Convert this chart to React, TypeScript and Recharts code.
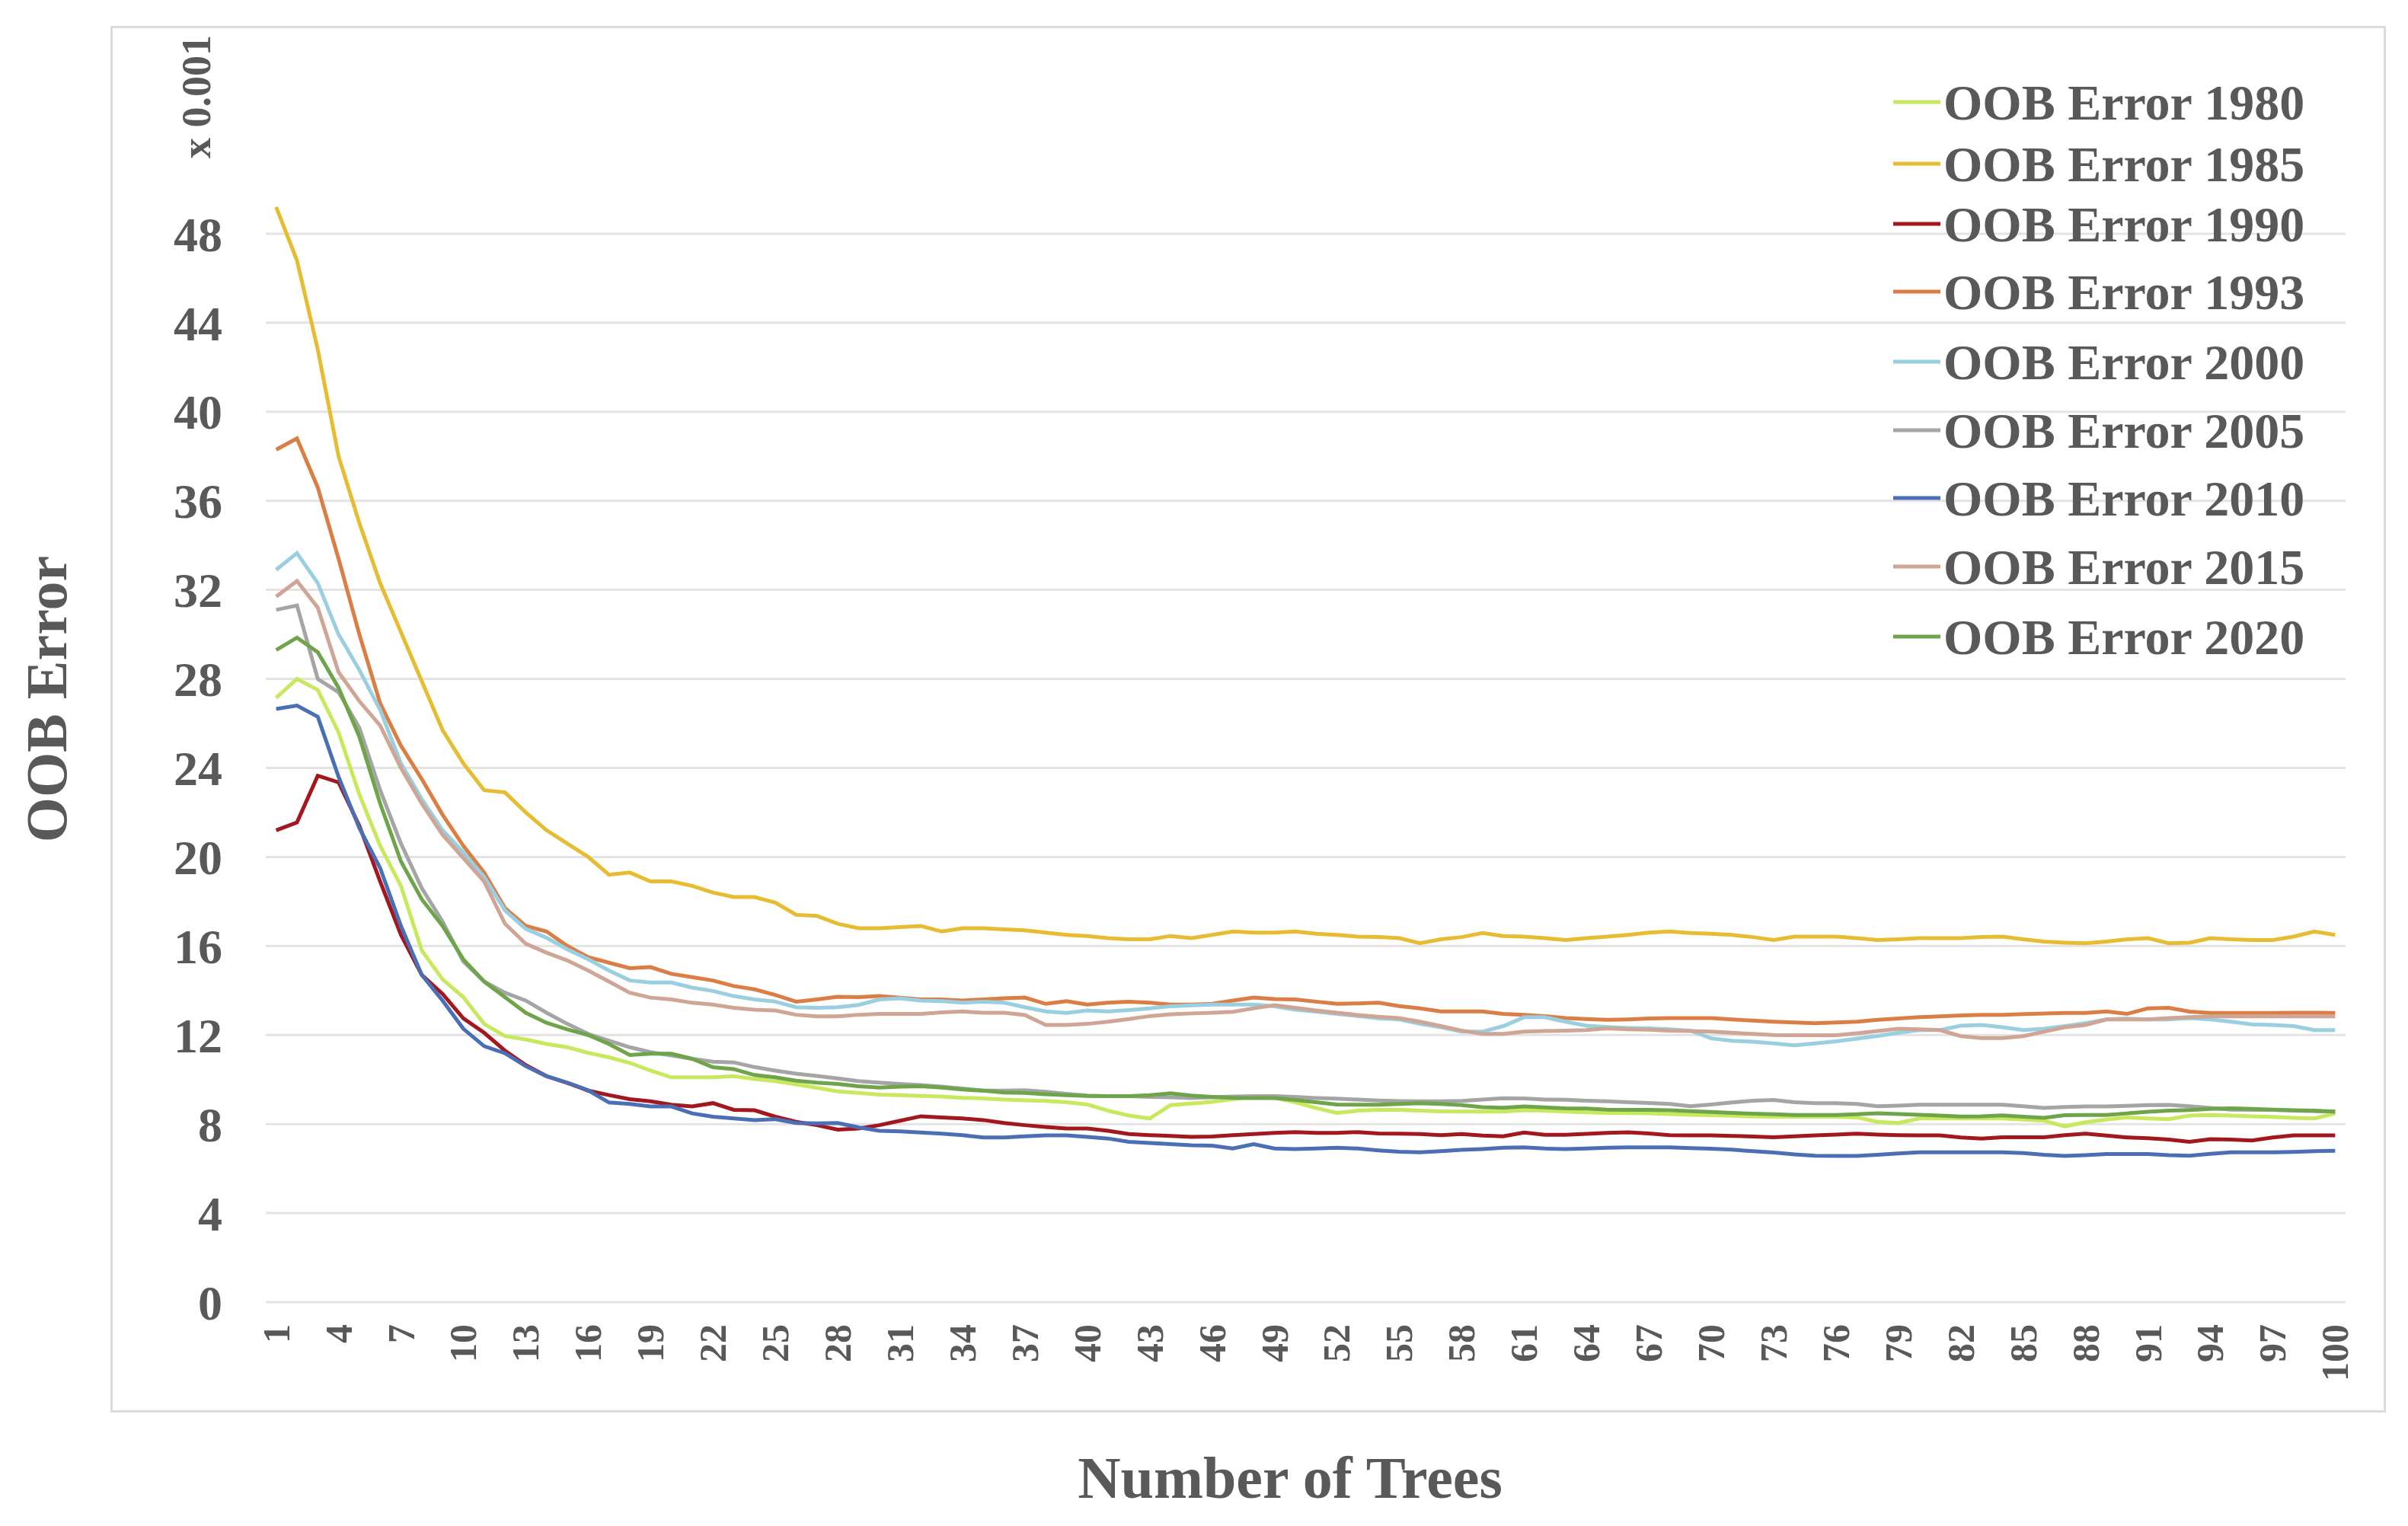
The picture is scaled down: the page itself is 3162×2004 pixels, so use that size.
import React from 'react';
import { LineChart, Line, XAxis, YAxis, CartesianGrid } from 'recharts';

// number of trees (category axis)
const trees = [
  1, 2, 3, 4, 5, 6, 7, 8, 9, 10, 11, 12, 13, 14, 15, 16, 17, 18, 19, 20,
  21, 22, 23, 24, 25, 26, 27, 28, 29, 30, 31, 32, 33, 34, 35, 36, 37, 38, 39, 40,
  41, 42, 43, 44, 45, 46, 47, 48, 49, 50, 51, 52, 53, 54, 55, 56, 57, 58, 59, 60,
  61, 62, 63, 64, 65, 66, 67, 68, 69, 70, 71, 72, 73, 74, 75, 76, 77, 78, 79, 80,
  81, 82, 83, 84, 85, 86, 87, 88, 89, 90, 91, 92, 93, 94, 95, 96, 97, 98, 99, 100,
];

const xTicks = [1, 4, 7, 10, 13, 16, 19, 22, 25, 28, 31, 34, 37, 40, 43, 46, 49, 52, 55, 58, 61, 64, 67, 70, 73, 76, 79, 82, 85, 88, 91, 94, 97, 100];
const yTicks = [0, 4, 8, 12, 16, 20, 24, 28, 32, 36, 40, 44, 48];

// OOB error values, x 0.001
const oob1980 = [
  27.15, 28.0, 27.5, 25.6, 22.8, 20.5, 18.7, 15.8, 14.5, 13.7, 12.5, 11.95, 11.8, 11.6, 11.45, 11.2, 11.0, 10.75, 10.4, 10.1,
  10.1, 10.1, 10.15, 10.02, 9.93, 9.78, 9.63, 9.47, 9.4, 9.32, 9.3, 9.26, 9.24, 9.18, 9.15, 9.1, 9.07, 9.04, 8.98, 8.88,
  8.6, 8.38, 8.25, 8.85, 8.92, 9.0, 9.12, 9.22, 9.18, 8.98, 8.72, 8.5, 8.6, 8.64, 8.64, 8.6, 8.57, 8.56, 8.56, 8.56,
  8.62, 8.6, 8.56, 8.53, 8.5, 8.49, 8.48, 8.45, 8.42, 8.4, 8.37, 8.34, 8.33, 8.33, 8.33, 8.33, 8.3, 8.1, 8.05, 8.25,
  8.25, 8.25, 8.25, 8.25, 8.2, 8.15, 7.9, 8.08, 8.2, 8.3, 8.25, 8.22, 8.38, 8.41, 8.38, 8.35, 8.32, 8.28, 8.25, 8.48,
];

const oob1985 = [
  49.2, 46.8, 42.8, 38.0, 35.0, 32.3, 30.1, 27.9, 25.7, 24.2, 23.0, 22.9, 22.0, 21.2, 20.6, 20.0, 19.2, 19.3, 18.9, 18.9,
  18.7, 18.4, 18.2, 18.2, 17.95, 17.4, 17.35, 17.0, 16.8, 16.8, 16.85, 16.9, 16.65, 16.8, 16.8, 16.75, 16.7, 16.6, 16.5, 16.45,
  16.35, 16.3, 16.3, 16.45, 16.35, 16.5, 16.65, 16.6, 16.6, 16.65, 16.55, 16.5, 16.42, 16.4, 16.35, 16.12, 16.3, 16.4, 16.58, 16.45,
  16.42, 16.35, 16.27, 16.35, 16.42, 16.5, 16.6, 16.65, 16.58, 16.55, 16.5, 16.4, 16.27, 16.42, 16.42, 16.42, 16.35, 16.27, 16.3, 16.35,
  16.35, 16.35, 16.4, 16.42, 16.3, 16.2, 16.15, 16.12, 16.2, 16.3, 16.35, 16.12, 16.15, 16.35, 16.3, 16.27, 16.27, 16.42, 16.65, 16.5,
];

const oob1990 = [
  21.2, 21.55, 23.65, 23.35, 21.4, 18.9, 16.5, 14.7, 13.85, 12.75, 12.1, 11.3, 10.65, 10.15, 9.85, 9.5, 9.3, 9.12, 9.02, 8.87,
  8.79, 8.94, 8.64, 8.62, 8.33, 8.1, 7.95, 7.75, 7.8, 7.95, 8.15, 8.35, 8.3, 8.25, 8.18, 8.05, 7.95, 7.87, 7.8, 7.8,
  7.7, 7.55, 7.5, 7.47, 7.42, 7.44, 7.5, 7.55, 7.6, 7.64, 7.6, 7.6, 7.64, 7.58, 7.57, 7.55, 7.5, 7.55, 7.48, 7.45,
  7.62, 7.52, 7.52, 7.56, 7.6, 7.63, 7.58, 7.5, 7.49, 7.49, 7.47, 7.44, 7.41, 7.45, 7.49, 7.53, 7.57, 7.53, 7.5, 7.49,
  7.49, 7.4, 7.35, 7.41, 7.41, 7.41, 7.5, 7.57, 7.48, 7.4, 7.36, 7.3, 7.2, 7.32, 7.3, 7.26, 7.4, 7.49, 7.49, 7.49,
];

const oob1993 = [
  38.3, 38.8, 36.6, 33.4, 30.0, 26.9, 25.0, 23.5, 21.9, 20.5, 19.3, 17.7, 16.9, 16.65, 16.0, 15.5, 15.25, 15.0, 15.05, 14.75,
  14.6, 14.45, 14.2, 14.05, 13.8, 13.5, 13.6, 13.72, 13.7, 13.75, 13.68, 13.6, 13.6, 13.55, 13.6, 13.65, 13.68, 13.4, 13.52, 13.37,
  13.45, 13.5, 13.45, 13.37, 13.37, 13.4, 13.55, 13.68, 13.62, 13.6, 13.5, 13.4, 13.42, 13.45, 13.3, 13.2, 13.06, 13.06, 13.06, 12.95,
  12.91, 12.85, 12.76, 12.72, 12.68, 12.7, 12.74, 12.76, 12.76, 12.76, 12.7, 12.65, 12.6, 12.56, 12.53, 12.56, 12.6, 12.68, 12.74, 12.8,
  12.84, 12.88, 12.91, 12.91, 12.94, 12.97, 12.99, 12.99, 13.06, 12.95, 13.2, 13.22, 13.05, 12.99, 12.99, 12.99, 12.99, 13.0, 13.0, 12.99,
];

const oob2000 = [
  32.9, 33.65, 32.3, 30.0, 28.4, 26.6, 24.2, 22.6, 21.2, 20.2, 19.1, 17.6, 16.77, 16.37, 15.85, 15.4, 14.9, 14.45, 14.36, 14.36,
  14.13, 13.98, 13.75, 13.6, 13.5, 13.25, 13.22, 13.25, 13.35, 13.6, 13.65, 13.55, 13.52, 13.45, 13.5, 13.45, 13.25, 13.06, 12.99, 13.1,
  13.06, 13.12, 13.2, 13.29, 13.33, 13.37, 13.37, 13.37, 13.29, 13.14, 13.05, 12.95, 12.85, 12.75, 12.7, 12.5, 12.35, 12.15, 12.15, 12.4,
  12.8, 12.8, 12.6, 12.42, 12.36, 12.32, 12.3, 12.26, 12.2, 11.85, 11.74, 11.7, 11.62, 11.54, 11.62, 11.72, 11.84, 11.96, 12.1, 12.22,
  12.22, 12.42, 12.45, 12.35, 12.22, 12.28, 12.4, 12.53, 12.7, 12.74, 12.7, 12.7, 12.76, 12.7, 12.6, 12.48, 12.45, 12.4, 12.22, 12.22,
];

const oob2005 = [
  31.1, 31.3, 28.0, 27.4, 25.8, 23.0, 20.6, 18.6, 17.1, 15.3, 14.4, 13.9, 13.55, 13.0, 12.5, 12.05, 11.75, 11.45, 11.23, 11.08,
  10.93, 10.8, 10.77, 10.56, 10.4, 10.26, 10.16, 10.05, 9.93, 9.86, 9.8, 9.75, 9.68, 9.6, 9.5, 9.5, 9.52, 9.45, 9.36, 9.28,
  9.25, 9.25, 9.22, 9.2, 9.17, 9.2, 9.24, 9.25, 9.25, 9.22, 9.17, 9.14, 9.1, 9.06, 9.03, 9.02, 9.02, 9.04, 9.1, 9.16,
  9.15, 9.1, 9.09, 9.05, 9.02, 8.98, 8.95, 8.9, 8.8, 8.88, 8.97, 9.05, 9.08, 8.98, 8.94, 8.94, 8.9, 8.8, 8.83, 8.87,
  8.87, 8.87, 8.87, 8.87, 8.8, 8.72, 8.77, 8.79, 8.79, 8.82, 8.85, 8.86, 8.8, 8.72, 8.65, 8.64, 8.64, 8.6, 8.58, 8.56,
];

const oob2010 = [
  26.65, 26.8, 26.3, 23.6, 21.3, 19.5, 16.9, 14.7, 13.55, 12.28, 11.5, 11.18, 10.6, 10.15, 9.86, 9.52, 8.97, 8.9, 8.79, 8.79,
  8.48, 8.33, 8.25, 8.18, 8.22, 8.05, 8.03, 8.05, 7.85, 7.7, 7.67, 7.62, 7.57, 7.5, 7.4, 7.4, 7.45, 7.49, 7.49, 7.42,
  7.35, 7.2, 7.15, 7.1, 7.05, 7.03, 6.9, 7.1, 6.9, 6.88, 6.9, 6.94, 6.9, 6.82, 6.76, 6.73, 6.78, 6.84, 6.88, 6.94,
  6.95, 6.9, 6.88, 6.9, 6.94, 6.95, 6.95, 6.95, 6.92, 6.89, 6.85, 6.78, 6.72, 6.64, 6.58, 6.57, 6.57, 6.62, 6.68, 6.73,
  6.73, 6.73, 6.73, 6.73, 6.7, 6.62, 6.57, 6.6, 6.65, 6.65, 6.65, 6.6, 6.58, 6.66, 6.73, 6.73, 6.73, 6.75, 6.78, 6.8,
];

const oob2015 = [
  31.7, 32.4, 31.2, 28.3, 27.0, 25.9, 24.0, 22.4, 21.0, 19.95, 18.9, 17.0, 16.1, 15.7, 15.35, 14.9, 14.4, 13.9, 13.68, 13.6,
  13.45, 13.37, 13.22, 13.14, 13.1, 12.91, 12.84, 12.84, 12.91, 12.95, 12.95, 12.95, 13.02, 13.06, 13.0, 13.0, 12.9, 12.45, 12.45, 12.5,
  12.6, 12.72, 12.85, 12.93, 12.97, 13.0, 13.04, 13.2, 13.34, 13.22, 13.1, 13.0, 12.9, 12.82, 12.76, 12.6, 12.4, 12.2, 12.05, 12.05,
  12.15, 12.18, 12.2, 12.22, 12.3, 12.26, 12.24, 12.2, 12.18, 12.15, 12.1, 12.05, 12.0, 11.99, 11.99, 11.99, 12.08, 12.18, 12.28, 12.26,
  12.22, 11.95, 11.86, 11.86, 11.95, 12.15, 12.35, 12.45, 12.7, 12.7, 12.7, 12.76, 12.8, 12.84, 12.84, 12.84, 12.84, 12.84, 12.84, 12.84,
];

const oob2020 = [
  29.3, 29.85, 29.2, 27.6, 25.4, 22.4, 19.8, 18.1, 16.9, 15.4, 14.4, 13.7, 13.0, 12.55, 12.25, 12.0, 11.6, 11.1, 11.16, 11.16,
  10.93, 10.55, 10.47, 10.2, 10.1, 9.95, 9.86, 9.8, 9.7, 9.64, 9.68, 9.7, 9.64, 9.55, 9.5, 9.42, 9.4, 9.34, 9.3, 9.26,
  9.25, 9.25, 9.3, 9.38, 9.28, 9.22, 9.18, 9.17, 9.17, 9.08, 8.98, 8.88, 8.87, 8.87, 8.9, 8.94, 8.9, 8.85, 8.76, 8.73,
  8.79, 8.75, 8.71, 8.7, 8.65, 8.64, 8.64, 8.62, 8.58, 8.54, 8.5, 8.47, 8.44, 8.41, 8.41, 8.41, 8.44, 8.48, 8.45, 8.42,
  8.38, 8.34, 8.35, 8.39, 8.33, 8.28, 8.4, 8.41, 8.41, 8.48, 8.55, 8.6, 8.63, 8.68, 8.71, 8.68, 8.65, 8.62, 8.6, 8.56,
];

const seriesNames = ['OOB Error 1980', 'OOB Error 1985', 'OOB Error 1990', 'OOB Error 1993', 'OOB Error 2000', 'OOB Error 2005', 'OOB Error 2010', 'OOB Error 2015', 'OOB Error 2020'];
const seriesKeys = ['e1980', 'e1985', 'e1990', 'e1993', 'e2000', 'e2005', 'e2010', 'e2015', 'e2020'];
const seriesValues = [oob1980, oob1985, oob1990, oob1993, oob2000, oob2005, oob2010, oob2015, oob2020];
const seriesColors = ['#c8e85e', '#e6bd32', '#a3171f', '#db7e45', '#99cfe0', '#a5a5a5', '#4a6fb5', '#cfa595', '#6fa54a'];

const data = trees.map((t, i) => {
  const row: Record<string, number> = { trees: t };
  seriesKeys.forEach((k, s) => {
    row[k] = seriesValues[s][i];
  });
  return row;
});

const FONT = '"Liberation Serif", "Times New Roman", serif';
const TEXT = '#595959';
// legend rows are not evenly spaced in the original
const legendRowY = [134, 215, 294, 383, 475, 565, 654, 744, 836];

function XTick({ x, y, payload }: any) {
  return (
    <text
      x={x}
      y={y}
      transform={`rotate(-90 ${x} ${y})`}
      textAnchor="end"
      dominantBaseline="central"
      fontFamily={FONT}
      fontWeight="bold"
      fontSize={50}
      fill={TEXT}
    >
      {payload.value}
    </text>
  );
}

export default function App() {
  return (
    <div style={{ position: 'absolute', left: 0, top: 0, width: 3162, height: 2004, background: '#fff' }}>
      <div
        style={{
          position: 'absolute',
          left: 145,
          top: 34,
          width: 3133 - 145,
          height: 1855 - 34,
          border: '3px solid #dcdcdc',
          boxSizing: 'border-box',
        }}
      />
      <div style={{ position: 'absolute', left: 0, top: 0 }}>
        <LineChart width={3162} height={2004} data={data} margin={{ top: 190, right: 82, bottom: 94, left: 0 }}>
          <CartesianGrid vertical={false} horizontalValues={yTicks} stroke="#e3e3e3" strokeWidth={3} />
          <XAxis
            dataKey="trees"
            type="number"
            domain={[0.5, 100.5]}
            ticks={xTicks}
            interval={0}
            axisLine={false}
            tickLine={false}
            tickSize={0}
            tickMargin={29}
            height={200}
            tick={<XTick />}
          />
          <YAxis
            type="number"
            domain={[0, 52]}
            ticks={yTicks}
            interval={0}
            width={349}
            axisLine={false}
            tickLine={false}
            tickSize={0}
            tickMargin={57}
            tick={{ fontFamily: FONT, fontWeight: 'bold', fontSize: 64, fill: TEXT }}
          />
          {seriesKeys.map((k, s) => (
            <Line
              key={k}
              dataKey={k}
              name={seriesNames[s]}
              type="linear"
              stroke={seriesColors[s]}
              strokeWidth={5}
              dot={false}
              activeDot={false}
              isAnimationActive={false}
            />
          ))}
        </LineChart>
      </div>
      <svg width={3162} height={2004} style={{ position: 'absolute', left: 0, top: 0, pointerEvents: 'none' }}>
        <text
          x={61}
          y={918}
          transform="rotate(-90 61 918)"
          textAnchor="middle"
          dominantBaseline="central"
          fontFamily={FONT}
          fontWeight="bold"
          fontSize={76}
          fill={TEXT}
        >
          OOB Error
        </text>
        <text
          x={258}
          y={127}
          transform="rotate(-90 258 127)"
          textAnchor="middle"
          dominantBaseline="central"
          fontFamily={FONT}
          fontWeight="bold"
          fontSize={54}
          fill={TEXT}
        >
          x 0.001
        </text>
        <text x={1694} y={1967} textAnchor="middle" fontFamily={FONT} fontWeight="bold" fontSize={78} fill={TEXT}>
          Number of Trees
        </text>
        {seriesNames.map((name, s) => {
          const cy = legendRowY[s];
          return (
            <g key={name}>
              <line x1={2486} y1={cy} x2={2548} y2={cy} stroke={seriesColors[s]} strokeWidth={5} />
              <text
                x={2552}
                y={cy}
                dominantBaseline="central"
                fontFamily={FONT}
                fontWeight="bold"
                fontSize={66}
                fill={TEXT}
              >
                {name}
              </text>
            </g>
          );
        })}
      </svg>
    </div>
  );
}
